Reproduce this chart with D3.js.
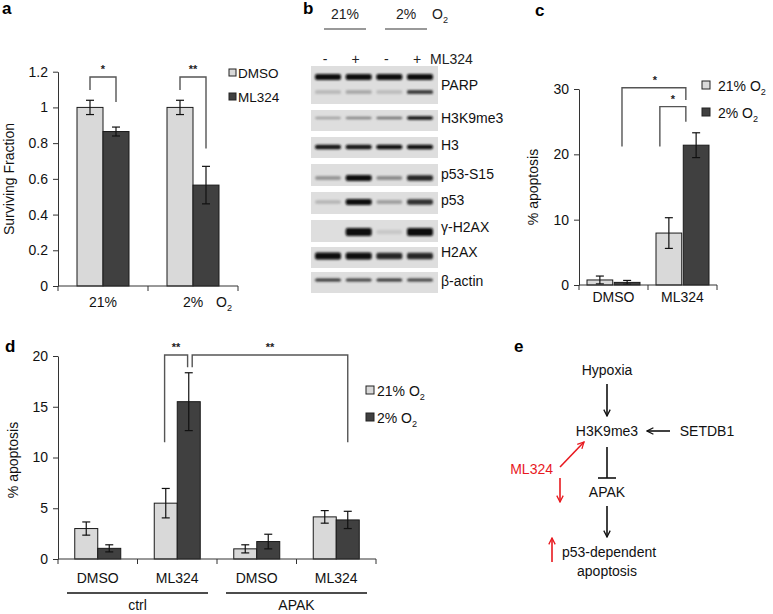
<!DOCTYPE html>
<html><head><meta charset="utf-8">
<script src="https://cdn.jsdelivr.net/npm/d3@7"></script>
<style>body{margin:0;background:#fff} svg{font-family:"Liberation Sans",Arial,sans-serif}</style>
</head><body><svg id="fig" width="773" height="614"></svg>
<script>
// ---------- DATA ----------
// Panel a
const aGroups = ["21%", "2%"];
const aSeries = ["DMSO", "ML324"];
const aValues = [[1.00, 0.865], [1.00, 0.565]];
const aErrors = [[0.04, 0.025], [0.04, 0.105]];
const aTicks = [0, 0.2, 0.4, 0.6, 0.8, 1, 1.2];
const aTickLabels = ["0", "0.2", "0.4", "0.6", "0.8", "1", "1.2"];

// Panel b (western blot)
const blotConditions = ["21%", "2%"];
const blotTreatment = ["-", "+", "-", "+"];
const blotProteins = ["PARP", "H3K9me3", "H3", "p53-S15", "p53", "γ-H2AX", "H2AX", "β-actin"];
const blotIntensity = [
  [1, 1, 1, 1],
  [0.25, 0.4, 0.5, 0.95],
  [0.95, 0.95, 1, 1],
  [0.3, 1, 0.35, 0.85],
  [0.15, 1, 0.25, 0.8],
  [0, 1, 0.05, 1],
  [1, 1, 0.85, 0.85],
  [0.8, 0.75, 0.8, 0.75]
];
const parpCleaved = [0.12, 0.2, 0.1, 0.75];

// Panel c
const cGroups = ["DMSO", "ML324"];
const cSeries = ["21%", "2%"];
const cValues = [[0.77, 0.4], [7.95, 21.4]];
const cErrors = [[0.6, 0.3], [2.35, 1.9]];
const cTicks = [0, 10, 20, 30];

// Panel d
const dGroups = ["ctrl-DMSO", "ctrl-ML324", "APAK-DMSO", "APAK-ML324"];
const dLabels = ["DMSO", "ML324", "DMSO", "ML324"];
const dSuper = ["ctrl", "APAK"];
const dSeries = ["21%", "2%"];
const dValues = [[3.0, 1.05], [5.5, 15.5], [1.0, 1.72], [4.15, 3.85]];
const dErrors = [[0.65, 0.35], [1.45, 2.85], [0.4, 0.72], [0.62, 0.85]];
const dTicks = [0, 5, 10, 15, 20];

// Panel e
const eNodes = ["Hypoxia", "H3K9me3", "SETDB1", "APAK", "p53-dependent", "apoptosis", "ML324"];

// ---------- DRAW ----------
const svg = d3.select("#fig");
const LIGHT = "#d9d9d9", DARK = "#404040";
const defs = svg.append("defs");
defs.append("filter").attr("id", "blur").attr("x", "-20%").attr("y", "-50%").attr("width", "140%").attr("height", "200%")
  .append("feGaussianBlur").attr("stdDeviation", 0.8);
function marker(id, color) {
  defs.append("marker").attr("id", id).attr("viewBox", "0 0 10 10").attr("refX", 9).attr("refY", 5)
    .attr("markerWidth", 8).attr("markerHeight", 8).attr("orient", "auto-start-reverse").attr("markerUnits", "userSpaceOnUse")
    .append("path").attr("d", "M1,1 L9,5 L1,9").attr("fill", "none").attr("stroke", color).attr("stroke-width", 1.6);
}
marker("arrK", "#111"); marker("arrR", "#e8191f");

function o2(sel, pre, size) {
  sel.append("tspan").text(pre + "O");
  sel.append("tspan").attr("font-size", size * 0.65).attr("dy", 4).text("2");
}

function barChart(cfg) {
  const g = svg.append("g");
  const x = d3.scaleBand().domain(cfg.groups).range([cfg.x0, cfg.x1]);
  const y = d3.scaleLinear().domain([0, cfg.ymax]).range([cfg.y0, cfg.y1]);
  const inner = d3.scaleBand().domain(cfg.series).range([-cfg.barW - cfg.gap / 2, cfg.barW + cfg.gap / 2]).paddingInner(cfg.gap / (2 * cfg.barW + cfg.gap));
  const cx = (gi) => x(cfg.groups[gi]) + x.bandwidth() / 2;
  cfg.values.forEach((vals, gi) => {
    vals.forEach((v, si) => {
      const bx = cx(gi) + inner(cfg.series[si]);
      g.append("rect").attr("x", bx).attr("y", y(v)).attr("width", inner.bandwidth()).attr("height", y(0) - y(v))
        .attr("fill", si === 0 ? LIGHT : DARK).attr("stroke", "#1a1a1a").attr("stroke-width", 1);
      const e = cfg.errors[gi][si];
      const mx = bx + inner.bandwidth() / 2;
      const eg = g.append("g").attr("stroke", "#111").attr("stroke-width", 1.2);
      eg.append("line").attr("x1", mx).attr("x2", mx).attr("y1", y(v - e)).attr("y2", y(v + e));
      eg.append("line").attr("x1", mx - 4).attr("x2", mx + 4).attr("y1", y(v - e)).attr("y2", y(v - e));
      eg.append("line").attr("x1", mx - 4).attr("x2", mx + 4).attr("y1", y(v + e)).attr("y2", y(v + e));
    });
  });
  const ya = d3.axisLeft(y).tickValues(cfg.ticks).tickSize(5).tickSizeOuter(0).tickPadding(5);
  if (cfg.tickLabels) ya.tickFormat((d, i) => cfg.tickLabels[i]);
  const yg = g.append("g").attr("transform", `translate(${cfg.x0},0)`).call(ya);
  yg.selectAll("text").attr("font-size", cfg.tickFont || 14).attr("fill", "#111").attr("font-family", "Liberation Sans, Arial");
  yg.selectAll("line,path").attr("stroke", "#333");
  g.append("line").attr("x1", cfg.x0).attr("x2", cfg.x1).attr("y1", cfg.y0).attr("y2", cfg.y0).attr("stroke", "#333");
  const bounds = cfg.groups.map(d => x(d)).concat([cfg.x1]);
  bounds.forEach(b => g.append("line").attr("x1", b).attr("x2", b).attr("y1", cfg.y0).attr("y2", cfg.y0 + 5).attr("stroke", "#333"));
  (cfg.brackets || []).forEach(br => {
    const xl = cx(br.g1) + inner(cfg.series[br.s1]) + inner.bandwidth() * br.f1;
    const xr = cx(br.g2) + inner(cfg.series[br.s2]) + inner.bandwidth() * br.f2;
    g.append("path").attr("d", `M${xl},${y(br.l)} V${y(br.top)} H${xr} V${y(br.r)}`)
      .attr("fill", "none").attr("stroke", "#555").attr("stroke-width", 1.4);
    g.append("text").attr("x", (xl + xr) / 2 + (br.dx || 0)).attr("y", y(br.top) - 4).attr("text-anchor", "middle")
      .attr("font-size", 11).attr("font-weight", "bold").attr("fill", "#222").text(br.label);
  });
  return { g, x, y, cx };
}

// ----- Panel a -----
svg.append("text").attr("x", 2).attr("y", 14).attr("font-size", 17).attr("font-weight", "bold").text("a");
const A = barChart({
  groups: aGroups, series: aSeries, values: aValues, errors: aErrors, ticks: aTicks, tickLabels: aTickLabels,
  x0: 58, x1: 238, y0: 286, y1: 71.7, ymax: 1.2, barW: 26, gap: 0,
  brackets: [
    { g1: 0, s1: 0, f1: 0.5, g2: 0, s2: 1, f2: 0.5, l: 1.097, top: 1.17, r: 1.03, label: "*" },
    { g1: 1, s1: 0, f1: 0.5, g2: 1, s2: 1, f2: 0.5, l: 1.097, top: 1.17, r: 0.77, label: "**" }
  ]
});
svg.append("text").attr("transform", "translate(14,179) rotate(-90)").attr("text-anchor", "middle")
  .attr("font-size", 14).attr("fill", "#111").text("Surviving Fraction");
aGroups.forEach((d, i) => svg.append("text").attr("x", A.cx(i)).attr("y", 307).attr("text-anchor", "middle").attr("font-size", 14).attr("fill", "#111").text(d));
svg.append("text").attr("x", 216).attr("y", 307).attr("font-size", 14).attr("fill", "#111").call(o2, "", 14);
aSeries.forEach((s, i) => {
  svg.append("rect").attr("x", 229).attr("y", 69 + i * 24).attr("width", 7).attr("height", 7)
    .attr("fill", i === 0 ? LIGHT : DARK).attr("stroke", "#222").attr("stroke-width", 1);
  svg.append("text").attr("x", 238).attr("y", 78 + i * 24).attr("font-size", 13.5).attr("fill", "#111").text(s);
});

// ----- Panel b -----
svg.append("text").attr("x", 303).attr("y", 14).attr("font-size", 17).attr("font-weight", "bold").text("b");
const laneX = d3.scalePoint().domain(d3.range(4)).range([328, 420]);
const condX = [345, 406];
blotConditions.forEach((c, i) => {
  svg.append("text").attr("x", condX[i]).attr("y", 19).attr("text-anchor", "middle").attr("font-size", 14).attr("fill", "#222").text(c);
  svg.append("line").attr("x1", condX[i] - 21).attr("x2", condX[i] + 21).attr("y1", 29).attr("y2", 29).attr("stroke", "#777").attr("stroke-width", 1.6);
});
svg.append("text").attr("x", 432).attr("y", 19).attr("font-size", 14).attr("fill", "#222").call(o2, "", 14);
blotTreatment.forEach((t, i) => svg.append("text").attr("x", laneX(i) - 3).attr("y", 64).attr("text-anchor", "middle").attr("font-size", 14).attr("fill", "#222").text(t));
svg.append("text").attr("x", 430).attr("y", 64).attr("font-size", 14).attr("fill", "#222").text("ML324");
const rows = [
  { top: 66, h: 38, band: 77, th: 6, lab: 90 },
  { top: 110, h: 21, band: 118, th: 3.5, lab: 123 },
  { top: 137, h: 21, band: 147, th: 4.5, lab: 150 },
  { top: 164, h: 22, band: 178, th: 6, lab: 179 },
  { top: 192, h: 22, band: 202, th: 6, lab: 205 },
  { top: 220, h: 22, band: 232, th: 8, lab: 232 },
  { top: 247, h: 21, band: 256, th: 7, lab: 257 },
  { top: 272, h: 21, band: 280, th: 3.5, lab: 286 }
];
blotProteins.forEach((p, ri) => {
  const r = rows[ri];
  svg.append("rect").attr("x", 311).attr("y", r.top).attr("width", 127).attr("height", r.h).attr("fill", "#dedede");
  const bg = svg.append("g").attr("filter", "url(#blur)");
  blotIntensity[ri].forEach((v, li) => {
    if (v <= 0.02) return;
    const th = r.th * (0.55 + 0.45 * v);
    const c = d3.interpolateRgb("#d2d2d2", "#0a0a0a")(v);
    bg.append("rect").attr("x", laneX(li) - 13).attr("y", r.band - th / 2).attr("width", 26)
      .attr("height", th).attr("rx", 2).attr("fill", c);
  });
  if (ri === 0) {
    parpCleaved.forEach((v, li) => {
      const c = d3.interpolateRgb("#d2d2d2", "#0a0a0a")(v);
      bg.append("rect").attr("x", laneX(li) - 13).attr("y", 90).attr("width", 26).attr("height", 4).attr("rx", 1.5).attr("fill", c);
    });
  }
  svg.append("text").attr("x", 441).attr("y", r.lab).attr("font-size", 14).attr("fill", "#111").text(p);
});

// ----- Panel c -----
svg.append("text").attr("x", 535).attr("y", 16).attr("font-size", 17).attr("font-weight", "bold").text("c");
const C = barChart({
  groups: cGroups, series: cSeries, values: cValues, errors: cErrors, ticks: cTicks,
  x0: 579, x1: 717, y0: 285, y1: 89, ymax: 30, barW: 25, gap: 3,
  brackets: [
    { g1: 0, s1: 1, f1: 0.3, g2: 1, s2: 1, f2: 0.1, l: 21.2, top: 30.2, r: 28.3, label: "*", dx: 1 },
    { g1: 1, s1: 0, f1: 0.15, g2: 1, s2: 1, f2: 0.1, l: 21.2, top: 27.3, r: 25, label: "*" }
  ]
});
svg.append("text").attr("transform", "translate(538,187) rotate(-90)").attr("text-anchor", "middle")
  .attr("font-size", 14).attr("fill", "#111").text("% apoptosis");
cGroups.forEach((d, i) => svg.append("text").attr("x", C.cx(i)).attr("y", 302).attr("text-anchor", "middle").attr("font-size", 14).attr("fill", "#111").text(d));
cSeries.forEach((s, i) => {
  svg.append("rect").attr("x", 702).attr("y", 81 + i * 27).attr("width", 8).attr("height", 8)
    .attr("fill", i === 0 ? LIGHT : DARK).attr("stroke", "#222").attr("stroke-width", 1);
  svg.append("text").attr("x", 718).attr("y", 91 + i * 27).attr("font-size", 14).attr("fill", "#111").call(o2, s + " ", 14);
});

// ----- Panel d -----
svg.append("text").attr("x", 5).attr("y", 352).attr("font-size", 17).attr("font-weight", "bold").text("d");
const D = barChart({
  groups: dGroups, series: dSeries, values: dValues, errors: dErrors, ticks: dTicks,
  x0: 58, x1: 376, y0: 559, y1: 356, ymax: 20, barW: 23, gap: 0,
  brackets: [
    { g1: 1, s1: 0, f1: 0.45, g2: 1, s2: 1, f2: 0.45, l: 11.5, top: 20.1, r: 18.9, label: "**" },
    { g1: 1, s1: 1, f1: 0.65, g2: 3, s2: 1, f2: 0.5, l: 18.9, top: 20.1, r: 11.5, label: "**", dx: 0 }
  ]
});
svg.append("text").attr("transform", "translate(18,460) rotate(-90)").attr("text-anchor", "middle")
  .attr("font-size", 14).attr("fill", "#111").text("% apoptosis");
dLabels.forEach((d, i) => svg.append("text").attr("x", D.cx(i)).attr("y", 583).attr("text-anchor", "middle").attr("font-size", 14).attr("fill", "#111").text(d));
dSuper.forEach((s, i) => {
  const xl = D.x(dGroups[i * 2]) + 9, xr = D.x(dGroups[i * 2 + 1]) + D.x.bandwidth() - 9;
  svg.append("line").attr("x1", xl).attr("x2", xr).attr("y1", 593).attr("y2", 593).attr("stroke", "#111").attr("stroke-width", 1.3);
  svg.append("text").attr("x", (xl + xr) / 2).attr("y", 610).attr("text-anchor", "middle").attr("font-size", 14).attr("fill", "#111").text(s);
});
dSeries.forEach((s, i) => {
  svg.append("rect").attr("x", 366).attr("y", 386 + i * 27).attr("width", 8).attr("height", 8)
    .attr("fill", i === 0 ? LIGHT : DARK).attr("stroke", "#222").attr("stroke-width", 1);
  svg.append("text").attr("x", 377).attr("y", 396 + i * 27).attr("font-size", 14).attr("fill", "#111").call(o2, s + " ", 14);
});

// ----- Panel e -----
svg.append("text").attr("x", 514).attr("y", 352).attr("font-size", 17).attr("font-weight", "bold").text("e");
const eX = 607;
const eText = (t, x, y, anchor, color) => svg.append("text").attr("x", x).attr("y", y).attr("text-anchor", anchor)
  .attr("font-size", 14).attr("fill", color || "#111").text(t);
eText(eNodes[0], eX, 375, "middle");
eText(eNodes[1], eX, 436, "middle");
eText(eNodes[2], 707, 436, "middle");
eText(eNodes[3], eX, 497, "middle");
eText(eNodes[4], 609, 557, "middle");
eText(eNodes[5], eX, 576, "middle");
eText(eNodes[6], 553, 474, "end", "#e8191f");
const line = (x1, y1, x2, y2, col, mk) => {
  const l = svg.append("line").attr("x1", x1).attr("y1", y1).attr("x2", x2).attr("y2", y2).attr("stroke", col).attr("stroke-width", 1.6);
  if (mk) l.attr("marker-end", `url(#${mk})`);
  return l;
};
line(eX, 384, eX, 416, "#111", "arrK");
line(670, 431, 647, 431, "#111", "arrK");
line(eX, 447, eX, 478, "#111");
line(598, 478, 616, 478, "#111");
line(eX, 506, eX, 537, "#111", "arrK");
line(560, 467, 584, 442, "#e8191f", "arrR");
line(560, 478, 560, 502, "#e8191f", "arrR");
line(552, 562, 552, 538, "#e8191f", "arrR");
</script></body></html>
